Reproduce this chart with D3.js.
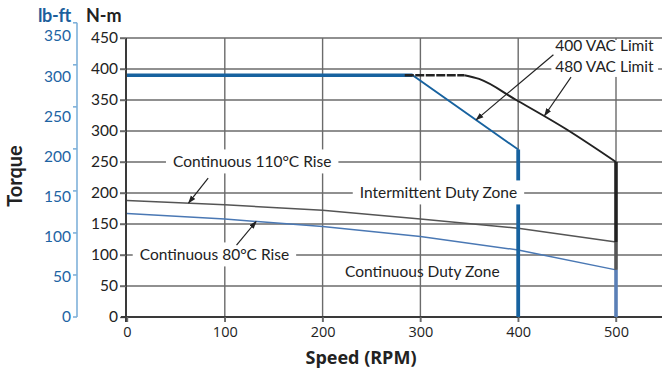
<!DOCTYPE html>
<html>
<head>
<meta charset="utf-8">
<script src="https://cdn.jsdelivr.net/npm/d3@7"></script>
<style>
  html, body { margin: 0; padding: 0; background: #fff; }
  svg { display: block; }
</style>
</head>
<body>
<svg id="chart" width="662" height="373"></svg>
<script>
// Speed axis (RPM) and torque axes (N-m, lb-ft)
const speedTicks = [0, 100, 200, 300, 400, 500];
const torqueNmTicks = [0, 50, 100, 150, 200, 250, 300, 350, 400, 450];
const torqueLbftTicks = [0, 50, 100, 150, 200, 250, 300, 350];

// Voltage limit curves: [speed RPM, torque N-m]
const vac400Limit = [[0, 390], [292, 390], [400, 270]];
const vac480Flat = [[284, 390], [345, 390]];
const vac480Limit = [[345, 390], [360, 384], [398, 350], [448, 304], [500, 250]];

// Continuous thermal curves: [speed RPM, torque N-m]
const rise110 = [[0, 188], [100, 181], [200, 172], [300, 158], [400, 143], [500, 121]];
const rise80 = [[0, 167], [100, 158], [200, 146], [300, 130], [400, 108], [500, 76]];

const NM_PER_LBFT = 1.35582;

const svg = d3.select("#chart");
const W = 662;

const x = d3.scaleLinear().domain([0, 500]).range([127, 616]);
const y = d3.scaleLinear().domain([0, 450]).range([317, 38]);

const FONT = "Lato, 'Open Sans', sans-serif";
const GRID = "#6b6b6b";

// ---- grid ----
const grid = svg.append("g");
grid.selectAll("line.h").data(torqueNmTicks.filter(d => d > 0)).join("line")
  .attr("x1", 120).attr("x2", W)
  .attr("y1", d => y(d)).attr("y2", d => y(d))
  .attr("stroke", GRID).attr("stroke-width", 1.4);
grid.selectAll("line.v").data(speedTicks.filter(d => d > 0)).join("line")
  .attr("x1", d => x(d)).attr("x2", d => x(d))
  .attr("y1", y(450)).attr("y2", y(0) + 5)
  .attr("stroke", GRID).attr("stroke-width", 1.4);

// ---- N-m axis ----
const axNm = svg.append("g").attr("transform", `translate(${x(0) - 1},0)`)
  .call(d3.axisLeft(y).tickValues(torqueNmTicks).tickSize(6).tickPadding(2));
axNm.select(".domain").attr("stroke", "#3a3a3a").attr("stroke-width", 2)
  .attr("d", `M0,${y(450)}V${y(0) + 5}`);
axNm.selectAll(".tick line").attr("stroke", GRID).attr("stroke-width", 1.4);
axNm.selectAll(".tick text").attr("font-family", FONT).attr("font-size", 15.5)
  .attr("fill", "#222");

// ---- speed axis ----
const axX = svg.append("g").attr("transform", `translate(0,${y(0)})`)
  .call(d3.axisBottom(x).tickValues(speedTicks).tickSize(5).tickPadding(5));
axX.select(".domain").attr("stroke", "#3a3a3a").attr("stroke-width", 2)
  .attr("d", `M${x(0) - 6},0H${W}`);
axX.selectAll(".tick line").attr("stroke", GRID).attr("stroke-width", 1.4);
axX.selectAll(".tick text").attr("font-family", "'Open Sans', sans-serif")
  .attr("font-size", 14.5).attr("fill", "#222");

// ---- lb-ft axis ----
const lbX = 77;
const lbAxis = svg.append("g");
lbAxis.append("line")
  .attr("x1", lbX).attr("x2", lbX)
  .attr("y1", y(350 * NM_PER_LBFT)).attr("y2", y(0))
  .attr("stroke", "#7fb1da").attr("stroke-width", 1.6);
lbAxis.selectAll("line.t").data(torqueLbftTicks).join("line")
  .attr("x1", lbX - 4).attr("x2", lbX)
  .attr("y1", d => y(d * NM_PER_LBFT)).attr("y2", d => y(d * NM_PER_LBFT))
  .attr("stroke", "#7fb1da").attr("stroke-width", 1.6);
// labels are set slightly tighter than the ticks
lbAxis.selectAll("text").data(torqueLbftTicks).join("text")
  .attr("x", lbX - 6).attr("y", d => y(d * 1.295))
  .attr("dy", "0.35em").attr("text-anchor", "end")
  .attr("font-family", FONT).attr("font-size", 15.5).attr("fill", "#1d64a3")
  .text(d => d);

// ---- units and axis titles ----
svg.append("text").attr("x", 71).attr("y", 22).attr("text-anchor", "end")
  .attr("font-family", FONT).attr("font-weight", 700).attr("font-size", 18)
  .attr("fill", "#1d5f9c").attr("letter-spacing", -0.3).text("lb-ft");
svg.append("text").attr("x", 86).attr("y", 22)
  .attr("font-family", FONT).attr("font-weight", 700).attr("font-size", 18)
  .attr("fill", "#222").text("N-m");
svg.append("text").attr("transform", "translate(22,176) rotate(-90)")
  .attr("text-anchor", "middle")
  .attr("font-family", FONT).attr("font-weight", 700).attr("font-size", 20)
  .attr("fill", "#222").text("Torque");
svg.append("text").attr("x", 361).attr("y", 364).attr("text-anchor", "middle")
  .attr("font-family", "'Open Sans', sans-serif").attr("font-weight", 700).attr("font-size", 18)
  .attr("fill", "#222").text("Speed (RPM)");

// ---- curves ----
const line = d3.line().x(d => x(d[0])).y(d => y(d[1]));
const curves = svg.append("g").attr("fill", "none");

curves.append("path").datum(rise110).attr("d", line)
  .attr("stroke", "#555").attr("stroke-width", 1.5);
curves.append("path").datum(rise80).attr("d", line)
  .attr("stroke", "#4a78b4").attr("stroke-width", 1.5);

curves.append("path").datum(vac400Limit).attr("d", line)
  .attr("stroke", "#17629f").attr("stroke-width", 1.8);
curves.append("path").datum(vac400Limit.slice(0, 2)).attr("d", line)
  .attr("stroke", "#17629f").attr("stroke-width", 3.5);
curves.append("path").datum(vac480Flat).attr("d", line)
  .attr("stroke", "#222").attr("stroke-width", 2.4).attr("stroke-dasharray", "9,1.5");
curves.append("path").datum(vac480Limit).attr("d", d3.line().x(d => x(d[0])).y(d => y(d[1])).curve(d3.curveMonotoneX))
  .attr("stroke", "#222").attr("stroke-width", 2);

// vertical speed limits at the end of each curve
const last = a => a[a.length - 1];
const drops = [
  { s: last(vac400Limit)[0], top: last(vac400Limit)[1], bot: 0, c: "#17629f", w: 3.8 },
  { s: last(vac480Limit)[0], top: last(vac480Limit)[1], bot: last(rise110)[1], c: "#222", w: 3.6 },
  { s: last(rise110)[0], top: last(rise110)[1], bot: last(rise80)[1], c: "#555", w: 3.6 },
  { s: last(rise80)[0], top: last(rise80)[1], bot: 0, c: "#5a7fb6", w: 3.6 }
];
curves.selectAll("line.drop").data(drops).join("line")
  .attr("x1", d => x(d.s)).attr("x2", d => x(d.s))
  .attr("y1", d => y(d.top)).attr("y2", d => y(d.bot))
  .attr("stroke", d => d.c).attr("stroke-width", d => d.w);

// ---- annotations ----
const ann = svg.append("g").attr("font-family", FONT).attr("font-size", 15.5).attr("fill", "#222");
function label(txt, sx, t, opts = {}) {
  const g = ann.append("g");
  const bg = g.append("rect").attr("fill", "#fff");
  const tx = g.append("text").attr("x", x(sx)).attr("y", y(t)).attr("dy", "0.35em").text(txt);
  const b = tx.node().getBBox();
  const px = opts.padX ?? 6, py = opts.padY ?? 3;
  if (opts.bg !== false) {
    bg.attr("x", b.x - px).attr("y", b.y - py)
      .attr("width", b.width + 2 * px).attr("height", b.height + 2 * py);
  }
  return b;
}

// voltage limit labels share one white panel
const vacBg = ann.append("rect").attr("fill", "#fff");
const vacA = ann.append("text").attr("x", x(438)).attr("y", y(437)).attr("dy", "0.35em").text("400 VAC Limit");
const vacB = ann.append("text").attr("x", x(438)).attr("y", y(404)).attr("dy", "0.35em").text("480 VAC Limit");
{
  const a = vacA.node().getBBox(), b = vacB.node().getBBox();
  vacBg.attr("x", a.x - 4).attr("y", y(450) + 2)
    .attr("width", Math.max(a.width, b.width) + 8)
    .attr("height", (b.y + b.height + 2) - (y(450) + 2));
}

label("Continuous 110\u00B0C Rise", 47, 250, { padX: 7 });
label("Intermittent Duty Zone", 238, 200, { padX: 7 });
label("Continuous 80\u00B0C Rise", 13, 100, { padX: 7 });
label("Continuous Duty Zone", 223, 74, { bg: false });

// arrows
svg.append("defs").append("marker")
  .attr("id", "head").attr("viewBox", "0 0 10 10").attr("refX", 9).attr("refY", 5)
  .attr("markerWidth", 8).attr("markerHeight", 8).attr("orient", "auto")
  .attr("markerUnits", "userSpaceOnUse")
  .append("path").attr("d", "M0,1.5L10,5L0,8.5Z").attr("fill", "#222");

const arrows = [
  { from: [436, 423], to: [357, 318] },
  { from: [454, 387], to: [427, 325] },
  { from: [83, 224], to: [63, 184] },
  { from: [112, 116], to: [132, 154] }
];
svg.append("g").selectAll("line").data(arrows).join("line")
  .attr("x1", d => x(d.from[0])).attr("y1", d => y(d.from[1]))
  .attr("x2", d => x(d.to[0])).attr("y2", d => y(d.to[1]))
  .attr("stroke", "#222").attr("stroke-width", 1.2)
  .attr("marker-end", "url(#head)");
</script>
</body>
</html>
